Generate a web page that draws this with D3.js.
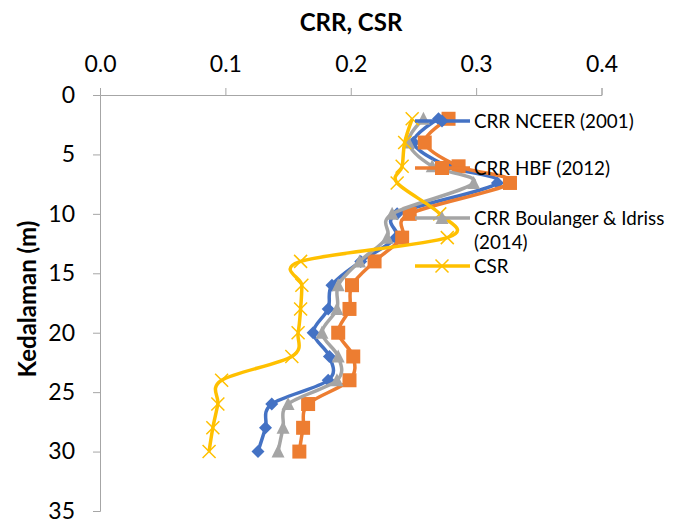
<!DOCTYPE html>
<html>
<head>
<meta charset="utf-8">
<script src="https://cdn.jsdelivr.net/npm/d3@7"></script>
<style>
  html, body { margin: 0; padding: 0; background: #fff; }
  svg { display: block; font-family: Lato, "Open Sans", sans-serif; }
</style>
</head>
<body>
<svg id="chart" width="673" height="523"></svg>
<script>
// Depth of each measurement point (m)
const depths = [2, 4, 6, 7.4, 10, 12, 14, 16, 18, 20, 22, 24, 26, 28, 30];

// Cyclic resistance ratio by method, and cyclic stress ratio
const crrNceer    = [0.270, 0.250, 0.277, 0.317, 0.237, 0.236, 0.208, 0.185, 0.182, 0.170, 0.183, 0.182, 0.137, 0.132, 0.126];
const crrHbf      = [0.278, 0.259, 0.286, 0.327, 0.247, 0.241, 0.219, 0.201, 0.199, 0.190, 0.202, 0.199, 0.166, 0.162, 0.159];
const crrBoulanger= [0.258, 0.246, 0.265, 0.298, 0.233, 0.229, 0.207, 0.190, 0.189, 0.177, 0.190, 0.189, 0.150, 0.146, 0.142];
const csr         = [0.249, 0.243, 0.241, 0.237, 0.271, 0.277, 0.160, 0.161, 0.160, 0.158, 0.153, 0.097, 0.094, 0.090, 0.087];

const xTicks = [0.0, 0.1, 0.2, 0.3, 0.4];
const yTicks = [0, 5, 10, 15, 20, 25, 30, 35];

const series = [
  { name: ["CRR NCEER (2001)"], values: crrNceer, color: "#4472C4", marker: "diamond" },
  { name: ["CRR HBF (2012)"], values: crrHbf, color: "#ED7D31", marker: "square" },
  { name: ["CRR Boulanger & Idriss", "(2014)"], values: crrBoulanger, color: "#A5A5A5", marker: "triangle" },
  { name: ["CSR"], values: csr, color: "#FFC000", marker: "cross" }
];

const svg = d3.select("#chart");
const x = d3.scaleLinear().domain([0, 0.4]).range([100, 601.5]);
const y = d3.scaleLinear().domain([0, 35]).range([95, 511]);
const axisColor = "#A6A6A6";

// Top axis (CRR, CSR)
const xAxis = svg.append("g").attr("transform", `translate(0,${y(0)})`)
  .call(d3.axisTop(x).tickValues(xTicks).tickFormat(d3.format(".1f")).tickSizeOuter(0).tickSize(7).tickPadding(16));
// Left axis (depth)
const yAxis = svg.append("g").attr("transform", `translate(${x(0)},0)`)
  .call(d3.axisLeft(y).tickValues(yTicks).tickSizeOuter(0).tickSize(7).tickPadding(18));
[xAxis, yAxis].forEach(a => {
  a.select(".domain").attr("stroke", axisColor).attr("stroke-width", 1);
  a.selectAll(".tick line").attr("stroke", axisColor).attr("stroke-width", 1);
  a.selectAll(".tick text").attr("fill", "#000").style("font-size", "23px")
    .style("font-family", "Lato, 'Open Sans', sans-serif");
});

svg.append("text").attr("x", 351).attr("y", 31).attr("text-anchor", "middle")
  .style("font-size", "24px").style("font-weight", "bold").text("CRR, CSR");
svg.append("text").attr("transform", "translate(36,299) rotate(-90)").attr("text-anchor", "middle")
  .style("font-size", "24px").style("font-weight", "bold").text("Kedalaman (m)");

const line = d3.line().curve(d3.curveCatmullRom.alpha(0));

function drawMarker(g, type, cx, cy, color) {
  if (type === "diamond") {
    g.append("path").attr("d", `M${cx},${cy-6.5}L${cx+6.5},${cy}L${cx},${cy+6.5}L${cx-6.5},${cy}Z`).attr("fill", color);
  } else if (type === "square") {
    g.append("rect").attr("x", cx - 7).attr("y", cy - 7).attr("width", 14).attr("height", 14).attr("fill", color);
  } else if (type === "triangle") {
    g.append("path").attr("d", `M${cx},${cy-7}L${cx+6.5},${cy+6}L${cx-6.5},${cy+6}Z`).attr("fill", color);
  } else {
    g.append("path").attr("d", `M${cx-6.5},${cy-6.5}L${cx+6.5},${cy+6.5}M${cx+6.5},${cy-6.5}L${cx-6.5},${cy+6.5}`)
      .attr("stroke", color).attr("stroke-width", 1.5).attr("fill", "none");
  }
}

// Series curves with markers
series.forEach(s => {
  const pts = depths.map((d, i) => [x(s.values[i]), y(d)]);
  const g = svg.append("g");
  g.append("path").attr("d", line(pts)).attr("fill", "none")
    .attr("stroke", s.color).attr("stroke-width", 3.5).attr("stroke-linejoin", "round");
  pts.forEach(p => drawMarker(g, s.marker, p[0], p[1], s.color));
});

// Legend
const legendY = [121, 168, 218, 266];
series.forEach((s, i) => {
  const g = svg.append("g");
  const ly = legendY[i];
  g.append("line").attr("x1", 415).attr("x2", 470).attr("y1", ly).attr("y2", ly)
    .attr("stroke", s.color).attr("stroke-width", 3.5);
  drawMarker(g, s.marker, 442, ly, s.color);
  s.name.forEach((t, j) => {
    g.append("text").attr("x", 474).attr("y", ly + j * 24).attr("dy", "0.35em")
      .style("font-size", "18.8px").text(t);
  });
});
</script>
</body>
</html>
